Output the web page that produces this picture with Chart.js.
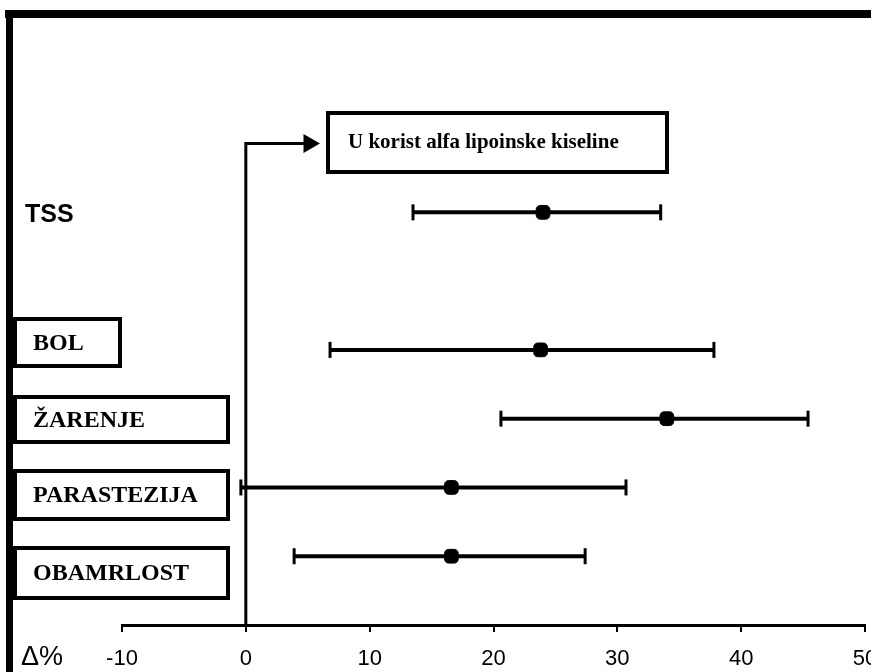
<!DOCTYPE html>
<html>
<head>
<meta charset="utf-8">
<script src="https://cdn.jsdelivr.net/npm/chart.js@4/dist/chart.umd.min.js"></script>
<style>
  body { margin: 0; background: #fff; }
  #wrap { width: 871px; height: 672px; }
</style>
</head>
<body>
<div id="wrap"><canvas id="forestChart"></canvas></div>
<script>
// Rows (y position on the hidden vertical scale) and their labels
const categories = ['TSS', 'BOL', 'ŽARENJE', 'PARASTEZIJA', 'OBAMRLOST'];
const rowPositions = [6, 4, 3, 2, 1];

// Δ% estimates: mean with lower / upper interval limits
const meanValues = [24.0, 23.8, 34.0, 16.6, 16.6];
const lowerValues = [13.5, 6.8, 20.6, -0.4, 3.9];
const upperValues = [33.5, 37.8, 45.4, 30.7, 27.4];

const xTicks = [-10, 0, 10, 20, 30, 40, 50];
const axisLabel = 'Δ%';
const favourLabel = 'U korist alfa lipoinske kiseline';

// the bracket from x=0 up to the arrow pointing at the box
const arrowLevel = 7;
const arrowEnd = 5.1;

// label boxes drawn at the left (pixel layout)
const labelBoxes = {
    'BOL': { x: 15, y: 319, w: 105, h: 47 },
    'ŽARENJE': { x: 15, y: 397, w: 213, h: 45 },
    'PARASTEZIJA': { x: 15, y: 471, w: 213, h: 48 },
    'OBAMRLOST': { x: 15, y: 548, w: 213, h: 50 },
};

const decorations = {
    id: 'decorations',
    afterDraw(chart) {
        const ctx = chart.ctx;
        ctx.save();
        ctx.fillStyle = '#000';
        // frame bars (top and left)
        ctx.fillRect(5, 10, 866, 8);
        ctx.fillRect(6, 10, 7, 662);

        // label boxes
        ctx.strokeStyle = '#000';
        ctx.lineWidth = 4;
        ctx.textBaseline = 'middle';
        ctx.textAlign = 'left';
        ctx.font = 'bold 24px "Liberation Serif", "Times New Roman", serif';
        categories.forEach(name => {
            const b = labelBoxes[name];
            if (!b) return;
            ctx.strokeRect(b.x, b.y, b.w, b.h);
            ctx.fillText(name, 33, b.y + b.h / 2 + 1);
        });

        // TSS label (no box)
        ctx.font = 'bold 25px "Liberation Sans", Arial, sans-serif';
        ctx.fillText(categories[0], 25, 215);

        // favour box
        ctx.strokeRect(328, 113, 339, 59);
        ctx.font = 'bold 21px "Liberation Serif", "Times New Roman", serif';
        ctx.fillText(favourLabel, 348, 143);

        // Δ% axis label
        ctx.font = '27px "Liberation Sans", Arial, sans-serif';
        ctx.fillText(axisLabel, 21, 658);
        ctx.restore();
    }
};

const datasets = [];

// interval lines with end caps
categories.forEach((name, i) => {
    datasets.push({
        type: 'line',
        label: name,
        data: [
            { x: lowerValues[i], y: rowPositions[i] },
            { x: upperValues[i], y: rowPositions[i] },
        ],
        borderColor: '#000',
        borderWidth: 4,
        pointStyle: 'line',
        rotation: 90,
        pointRadius: 8,
        pointBorderWidth: 3,
        pointBorderColor: '#000',
        clip: false,
    });
});

// means
datasets.push({
    type: 'scatter',
    label: 'mean',
    data: meanValues.map((v, i) => ({ x: v, y: rowPositions[i] })),
    backgroundColor: '#000',
    borderColor: '#000',
    pointStyle: 'rectRounded',
    pointRadius: 8,
    clip: false,
});

// zero line with arrow
datasets.push({
    type: 'line',
    label: 'zero',
    data: [
        { x: 0, y: 0 },
        { x: 0, y: arrowLevel },
        { x: arrowEnd, y: arrowLevel },
    ],
    borderColor: '#000',
    borderWidth: 3,
    pointStyle: ['circle', 'circle', 'triangle'],
    pointRadius: [0, 0, 8],
    rotation: 90,
    pointBackgroundColor: '#000',
    pointBorderColor: '#000',
    clip: false,
});

const ctx = document.getElementById('forestChart').getContext('2d');
new Chart(ctx, {
    data: { datasets: datasets },
    options: {
        responsive: true,
        maintainAspectRatio: false,
        animation: false,
        layout: {
            autoPadding: false,
            padding: { left: 122, right: 6, top: 6, bottom: 0 },
        },
        plugins: {
            legend: { display: false },
            tooltip: { enabled: false },
        },
        scales: {
            x: {
                type: 'linear',
                min: xTicks[0],
                max: xTicks[xTicks.length - 1],
                afterBuildTicks: scale => {
                    scale.ticks = xTicks.map(v => ({ value: v }));
                },
                afterFit: scale => {
                    scale.height = 47;
                    scale.paddingLeft = 0;
                    scale.paddingRight = 0;
                },
                border: { display: true, color: '#000', width: 3 },
                grid: {
                    drawOnChartArea: false,
                    drawTicks: true,
                    tickLength: 7,
                    color: '#000',
                    lineWidth: 2,
                },
                ticks: {
                    color: '#000',
                    padding: 14,
                    maxRotation: 0,
                    font: { family: '"Liberation Sans", Arial, sans-serif', size: 22 },
                },
            },
            y: {
                type: 'linear',
                display: false,
                min: 0,
                max: 9,
            },
        },
    },
    plugins: [decorations],
});
</script>
</body>
</html>
